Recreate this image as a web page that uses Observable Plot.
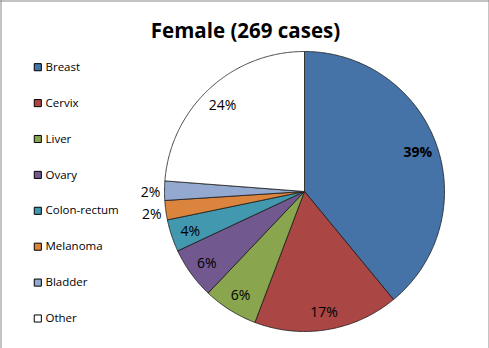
<!DOCTYPE html>
<html>
<head>
<meta charset="utf-8">
<script src="https://cdn.jsdelivr.net/npm/d3@7"></script>
<script src="https://cdn.jsdelivr.net/npm/@observablehq/plot@0.6"></script>
<style>
  html, body { margin: 0; padding: 0; background: #fff; }
  #chart svg { display: block; }
</style>
</head>
<body>
<div id="chart"></div>
<script>
const title = "Female (269 cases)";
const categories = ["Breast", "Cervix", "Liver", "Ovary", "Colon-rectum", "Melanoma", "Bladder", "Other"];
const cases = [105, 45, 17, 16, 10, 6, 6, 64];
const colors = ["#4572A7", "#AA4643", "#89A54E", "#71588F", "#4198AF", "#DB843D", "#93A9CF", "#FFFFFF"];

const W = 489, H = 348;
const cx = 304, cy = 191, R = 140;
const total = d3.sum(cases);
const arcs = d3.pie().sort(null).value(d => d)(cases);

function slicePoints(a, i) {
  const pts = [{x: cx, y: cy, cat: categories[i]}];
  const n = Math.max(2, Math.ceil((a.endAngle - a.startAngle) / (Math.PI / 360)));
  for (let k = 0; k <= n; k++) {
    const t = a.startAngle + (a.endAngle - a.startAngle) * k / n;
    pts.push({x: cx + R * Math.sin(t), y: cy - R * Math.cos(t), cat: categories[i]});
  }
  pts.push({x: cx, y: cy, cat: categories[i]});
  return pts;
}

const labels = arcs.map((a, i) => {
  const share = cases[i] / total;
  const mid = (a.startAngle + a.endAngle) / 2;
  const rr = share < 0.03 ? R * 1.1 : R * 0.86;
  return {
    x: cx + rr * Math.sin(mid),
    y: cy + 2 - rr * Math.cos(mid),
    text: Math.round(share * 100) + "%",
    big: cases[i] === d3.max(cases)
  };
});

const legend = categories.map((c, i) => ({cat: c, color: colors[i], y: 66.7 + i * 35.9}));

const marks = [
  ...arcs.map((a, i) => Plot.line(slicePoints(a, i), {
    x: "x", y: "y", fill: colors[i], stroke: "#1a1a1a", strokeWidth: 0.8, strokeLinejoin: "round"
  })),
  Plot.text(labels.filter(d => !d.big), {x: "x", y: "y", text: "text", fontSize: 14, fill: "#000"}),
  Plot.text(labels.filter(d => d.big), {x: "x", y: "y", text: "text", fontSize: 14, fontWeight: "bold", fill: "#000"}),
  Plot.dot(legend, {x: 37.3, y: "y", symbol: "square", r: 4, fill: "color", stroke: "#000", strokeWidth: 1}),
  Plot.text(legend, {x: 45, y: "y", text: "cat", textAnchor: "start", fontSize: 11.5, fill: "#000"}),
  Plot.text([title], {x: 245, y: 31, text: d => d, fontSize: 20.5, fontWeight: "bold", fill: "#000"}),
  Plot.ruleX([0.5], {stroke: "#888"}),
  Plot.ruleX([488.5], {stroke: "#888"}),
  Plot.ruleY([0.5], {stroke: "#888"})
];

const chart = Plot.plot({
  width: W,
  height: H,
  margin: 0,
  x: {domain: [0, W], range: [0, W], axis: null},
  y: {domain: [0, H], range: [0, H], axis: null},
  style: {fontFamily: "'Open Sans', sans-serif", background: "#fff"},
  marks
});
document.getElementById("chart").appendChild(chart);
</script>
</body>
</html>
